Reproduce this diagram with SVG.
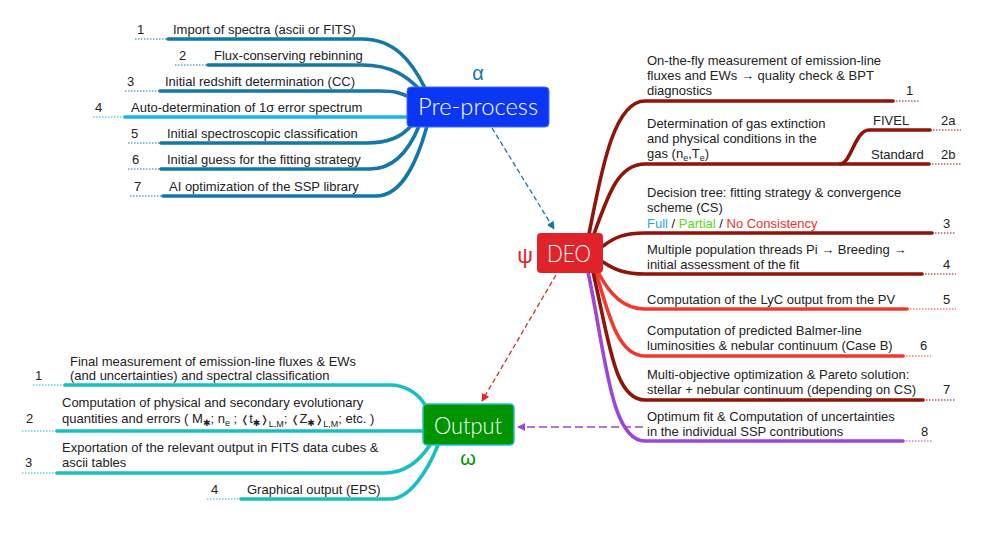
<svg xmlns="http://www.w3.org/2000/svg" width="981" height="538" viewBox="0 0 981 538">
<defs>
<style>
text{font-family:"Liberation Sans",Arial,"DejaVu Sans",sans-serif;font-size:13px;fill:#222}
.big{fill:#fff;font-family:Lato,"Open Sans","Liberation Sans",sans-serif;font-weight:300;font-size:24px;text-anchor:middle}
.br{fill:none;stroke-width:3.6;stroke-linecap:round}
.dot{fill:none;stroke-width:1;stroke-dasharray:1.5 1.5}
.pb{stroke:#1577a8}
.pl{stroke:#1bb2ee}
.dr{stroke:#8e1507}
.rr{stroke:#f2382e}
.pu{stroke:#9b46d9}
.cy{stroke:#19bec2}
.sub{font-size:9px}
.ang{font-size:10px;font-weight:bold}
</style>
<marker id="ab" viewBox="0 0 10 10" refX="9" refY="5" markerWidth="8" markerHeight="8" orient="auto" markerUnits="userSpaceOnUse"><path d="M0,0 L10,5 L0,10 z" fill="#1577a8"/></marker>
<marker id="ar" viewBox="0 0 10 10" refX="9" refY="5" markerWidth="8" markerHeight="8" orient="auto" markerUnits="userSpaceOnUse"><path d="M0,0 L10,5 L0,10 z" fill="#e42a2a"/></marker>
<marker id="ap" viewBox="0 0 10 10" refX="9" refY="5" markerWidth="8" markerHeight="8" orient="auto" markerUnits="userSpaceOnUse"><path d="M0,0 L10,5 L0,10 z" fill="#9b46d9"/></marker>
</defs>
<rect width="981" height="538" fill="#fff"/>

<g id="connectors">
<path class="br pb" d="M168 39 L362 39 C395 39 412 62 425 88"/>
<path class="br pb" d="M208 65 L362 65 C392 65 408 77 420 90"/>
<path class="br pb" d="M160 91 L380 91 C395 91 401 93 409 97"/>
<path class="br pl" d="M125 117 L408 117"/>
<path class="br pb" d="M161 143 L366 143 C390 143 402 136 411 126"/>
<path class="br pb" d="M161 169 L370 169 C396 169 410 148 419 126"/>
<path class="br pb" d="M163 196 L376 196 C402 196 417 162 427 126"/>
<path class="br dr" d="M589 234 C600 180 612 101 645 101 L893 101"/>
<path class="br dr" d="M594 234 C608 195 618 164 645 164 L929 164"/>
<path class="br dr" d="M840 164 C851 164 855 130 869 130 L930 130"/>
<path class="br dr" d="M603 246 C615 237 625 233 645 233 L932 233"/>
<path class="br dr" d="M603 262 C615 270 625 274 645 274 L922 274"/>
<path class="br rr" d="M598 272 C610 295 624 309 645 309 L907 309"/>
<path class="br rr" d="M596 272 C610 322 620 356 645 356 L903 356"/>
<path class="br dr" d="M593 272 C609 340 614 400 645 400 L923 400"/>
<path class="br pu" d="M588 272 C605 350 610 441 645 441 L903 441"/>
<path class="br cy" d="M65 385 L390 385 C405 385 418 393 425 405"/>
<path class="br cy" d="M57 431 L423 431"/>
<path class="br cy" d="M57 473 L385 473 C405 473 420 460 430 445"/>
<path class="br cy" d="M241 499 L390 499 C410 499 428 470 438 445"/>
<path d="M492 128 L554 229" fill="none" stroke="#1577a8" stroke-width="1.3" stroke-dasharray="5 3" marker-end="url(#ab)"/>
<path d="M556 275 L482 401" fill="none" stroke="#e42a2a" stroke-width="1.3" stroke-dasharray="5 3" marker-end="url(#ar)"/>
<path d="M643 427 L518 427" fill="none" stroke="#9b46d9" stroke-width="1.3" stroke-dasharray="8 4" marker-end="url(#ap)"/>
</g>

<g id="node-preprocess">
<rect x="407" y="87" width="142" height="40" rx="4" fill="#0b36f4" stroke="#3a6cff" stroke-width="1"/>
<text class="big" x="478" y="115" textLength="120" lengthAdjust="spacingAndGlyphs">Pre-process</text>
<text x="478" y="80" style="font-size:20px;fill:#1577a8" text-anchor="middle">α</text>
</g>
<g id="node-deo">
<rect x="537" y="233" width="66" height="40" rx="4" fill="#e0232a"/>
<text class="big" x="569" y="262" textLength="44" lengthAdjust="spacingAndGlyphs">DEO</text>
<text x="525" y="263" style="font-size:22px;fill:#e0232a" text-anchor="middle">ψ</text>
</g>
<g id="node-output">
<rect x="423" y="404" width="91" height="41" rx="4" fill="#009400" stroke="#22c4c4" stroke-width="1.5"/>
<text class="big" x="468" y="434" textLength="68" lengthAdjust="spacingAndGlyphs">Output</text>
<text x="468" y="465" style="font-size:20px;fill:#009400" text-anchor="middle">ω</text>
</g>

<g id="pp1"><path class="dot pb" d="M135 39 H168"/><text x="137" y="34">1</text><text x="173" y="34">Import of spectra (ascii or FITS)</text></g>
<g id="pp2"><path class="dot pb" d="M175 65 H208"/><text x="179" y="60">2</text><text x="214" y="60">Flux-conserving rebinning</text></g>
<g id="pp3"><path class="dot pb" d="M125 91 H160"/><text x="127" y="86">3</text><text x="165" y="86">Initial redshift determination (CC)</text></g>
<g id="pp4"><path class="dot pl" d="M93 117 H125"/><text x="95" y="112">4</text><text x="131" y="112">Auto-determination of 1σ error spectrum</text></g>
<g id="pp5"><path class="dot pb" d="M128 143 H161"/><text x="131" y="138">5</text><text x="167" y="138">Initial spectroscopic classification</text></g>
<g id="pp6"><path class="dot pb" d="M128 169 H161"/><text x="132" y="164">6</text><text x="167" y="164">Initial guess for the fitting strategy</text></g>
<g id="pp7"><path class="dot pb" d="M130 196 H163"/><text x="134" y="191">7</text><text x="169" y="191">AI optimization of the SSP library</text></g>

<g id="deo1"><path class="dot dr" d="M893 101 H920"/><text x="906" y="95">1</text>
<text x="647" y="65">On-the-fly measurement of emission-line</text>
<text x="647" y="80">fluxes and EWs → quality check &amp; BPT</text>
<text x="647" y="95">diagnostics</text></g>
<g id="deo2">
<text x="647" y="128">Determination of gas extinction</text>
<text x="647" y="143">and physical conditions in the</text>
<text x="647" y="158">gas (n<tspan class="sub" dy="3">e</tspan><tspan dy="-3">,T</tspan><tspan class="sub" dy="3">e</tspan><tspan dy="-3">)</tspan></text></g>
<g id="deo2a"><path class="dot dr" d="M930 130 H961"/><text x="873" y="125">FIVEL</text><text x="941" y="125">2a</text></g>
<g id="deo2b"><path class="dot dr" d="M929 164 H961"/><text x="871" y="159">Standard</text><text x="941" y="159">2b</text></g>
<g id="deo3"><path class="dot dr" d="M932 233 H956"/><text x="943" y="228">3</text>
<text x="647" y="197">Decision tree: fitting strategy &amp; convergence</text>
<text x="647" y="212">scheme (CS)</text>
<text x="647" y="228"><tspan style="fill:#1aa8f0">Full</tspan> / <tspan style="fill:#5ad622">Partial</tspan> / <tspan style="fill:#f0302e">No Consistency</tspan></text></g>
<g id="deo4"><path class="dot dr" d="M922 274 H956"/><text x="943" y="269">4</text>
<text x="647" y="254">Multiple population threads Pi → Breeding →</text>
<text x="647" y="269">initial assessment of the fit</text></g>
<g id="deo5"><path class="dot rr" d="M907 309 H956"/><text x="943" y="304">5</text>
<text x="647" y="304">Computation of the LyC output from the PV</text></g>
<g id="deo6"><path class="dot rr" d="M903 356 H931"/><text x="920" y="350">6</text>
<text x="647" y="335">Computation of predicted Balmer-line</text>
<text x="647" y="350">luminosities &amp; nebular continuum (Case B)</text></g>
<g id="deo7"><path class="dot dr" d="M923 400 H955"/><text x="943" y="394">7</text>
<text x="647" y="379">Multi-objective optimization &amp; Pareto solution:</text>
<text x="647" y="394">stellar + nebular continuum (depending on CS)</text></g>
<g id="deo8"><path class="dot pu" d="M903 441 H932"/><text x="921" y="436">8</text>
<text x="647" y="421">Optimum fit &amp; Computation of uncertainties</text>
<text x="647" y="436">in the individual SSP contributions</text></g>

<g id="out1"><path class="dot cy" d="M33 385 H65"/><text x="35" y="380">1</text>
<text x="70" y="366">Final measurement of emission-line fluxes &amp; EWs</text>
<text x="70" y="380">(and uncertainties) and spectral classification</text></g>
<g id="out2"><path class="dot cy" d="M22 431 H57"/><text x="26" y="423">2</text>
<text x="62" y="407">Computation of physical and secondary evolutionary</text>
<text x="62" y="423">quantities and errors ( M<tspan class="sub" dy="3">✱</tspan><tspan dy="-3">; n</tspan><tspan class="sub" dy="3">e</tspan><tspan dy="-3"> ; </tspan><tspan class="ang">❬</tspan>t<tspan class="sub" dy="3">✱</tspan><tspan class="ang" dy="-3">❭</tspan><tspan class="sub" dy="4">L,M</tspan><tspan dy="-4">; </tspan><tspan class="ang">❬</tspan>Z<tspan class="sub" dy="3">✱</tspan><tspan class="ang" dy="-3">❭</tspan><tspan class="sub" dy="4">L,M</tspan><tspan dy="-4">; etc. )</tspan></text></g>
<g id="out3"><path class="dot cy" d="M22 473 H57"/><text x="25" y="467">3</text>
<text x="62" y="452">Exportation of the relevant output in FITS data cubes &amp;</text>
<text x="62" y="467">ascii tables</text></g>
<g id="out4"><path class="dot cy" d="M207 499 H241"/><text x="211" y="494">4</text>
<text x="247" y="494">Graphical output (EPS)</text></g>
</svg>
